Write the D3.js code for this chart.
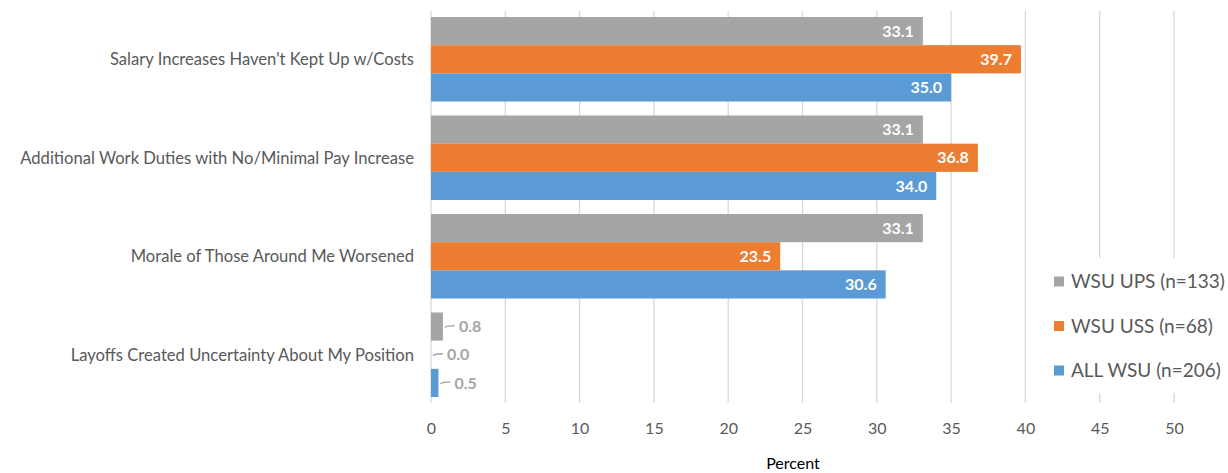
<!DOCTYPE html>
<html>
<head>
<meta charset="utf-8">
<script src="https://cdn.jsdelivr.net/npm/d3@7"></script>
<style>
  html, body { margin: 0; padding: 0; background: #fff; }
  svg { display: block; }
</style>
</head>
<body>
<svg id="chart" width="1228" height="473"></svg>
<script>
const categories = [
  "Salary Increases Haven't Kept Up w/Costs",
  "Additional Work Duties with No/Minimal Pay Increase",
  "Morale of Those Around Me Worsened",
  "Layoffs Created Uncertainty About My Position"
];
const seriesNames = ["WSU UPS (n=133)", "WSU USS (n=68)", "ALL WSU (n=206)"];
const seriesColors = ["#A5A5A5", "#ED7D31", "#5B9BD5"];
const upsValues = [33.1, 33.1, 33.1, 0.8];
const ussValues = [39.7, 36.8, 23.5, 0.0];
const allValues = [35.0, 34.0, 30.6, 0.5];
const xTicks = [0, 5, 10, 15, 20, 25, 30, 35, 40, 45, 50];
const xTitle = "Percent";

(function() {
const seriesValues = [upsValues, ussValues, allValues];

const svg = d3.select("#chart");
const pLeft = 431, pRight = 1174, pTop = 11, pBottom = 403;

const x = d3.scaleLinear().domain([0, 50]).range([pLeft, pRight]);
const y0 = d3.scaleBand().domain(categories).range([pTop, pBottom])
  .paddingInner(0.142).paddingOuter(0.061);
const y1 = d3.scaleBand().domain(d3.range(seriesNames.length)).range([0, y0.bandwidth()]);

// gridlines
svg.append("g").selectAll("line").data(xTicks).join("line")
  .attr("x1", d => x(d)).attr("x2", d => x(d))
  .attr("y1", pTop).attr("y2", pBottom)
  .attr("stroke", "#D9D9D9").attr("stroke-width", 1.3);

// bars
const groups = svg.append("g").selectAll("g").data(categories).join("g")
  .attr("transform", d => `translate(0,${y0(d)})`);

groups.each(function(cat, ci) {
  const g = d3.select(this);
  seriesValues.forEach((vals, si) => {
    const v = vals[ci];
    const by = y1(si), bh = y1.bandwidth();
    g.append("rect")
      .attr("x", x(0)).attr("y", by)
      .attr("width", x(v) - x(0)).attr("height", bh)
      .attr("fill", seriesColors[si]);
    const label = v.toFixed(1);
    if (v >= 5) {
      g.append("text")
        .attr("x", x(v) - 9).attr("y", by + bh / 2)
        .attr("dy", "0.35em").attr("text-anchor", "end")
        .attr("font-family", "Lato, 'Open Sans', sans-serif")
        .attr("font-weight", "bold").attr("font-size", 16)
        .attr("fill", "#fff").text(label);
    } else {
      const ex = x(v);
      const cy = by + bh / 2;
      g.append("path")
        .attr("d", `M${ex + 2},${cy + 1} Q${ex + 4},${cy - 1} ${ex + 12},${cy - 1}`)
        .attr("fill", "none").attr("stroke", "#A5A5A5").attr("stroke-width", 1.3);
      g.append("text")
        .attr("x", ex + 16).attr("y", cy)
        .attr("dy", "0.35em").attr("text-anchor", "start")
        .attr("font-family", "Lato, 'Open Sans', sans-serif")
        .attr("font-weight", "bold").attr("font-size", 16)
        .attr("fill", "#A5A5A5").text(label);
    }
  });
});

// category axis labels
svg.append("g").selectAll("text").data(categories).join("text")
  .attr("x", 414)
  .attr("y", d => y0(d) + y0.bandwidth() / 2)
  .attr("dy", "0.35em").attr("text-anchor", "end")
  .attr("font-family", "Lato, 'Open Sans', sans-serif")
  .attr("font-size", 16.6).attr("fill", "#595959")
  .text(d => d);

// x axis
const xAxis = d3.axisBottom(x).tickValues(xTicks).tickSize(0).tickPadding(0).tickFormat(d3.format("d"));
const axG = svg.append("g").attr("transform", `translate(0,${pBottom})`).call(xAxis);
axG.select(".domain").remove();
axG.selectAll("text")
  .attr("y", 25).attr("dy", "0.35em")
  .attr("font-family", "Lato, 'Open Sans', sans-serif")
  .attr("font-size", 16).attr("fill", "#595959");

svg.append("text")
  .attr("x", 793).attr("y", 463).attr("dy", "0.35em")
  .attr("text-anchor", "middle")
  .attr("font-family", "Lato, 'Open Sans', sans-serif")
  .attr("font-size", 16).attr("fill", "#000")
  .text(xTitle);

// legend
const lg = svg.append("g");
lg.append("rect").attr("x", 1040).attr("y", 258).attr("width", 188).attr("height", 135).attr("fill", "#fff");
const rows = [281.5, 326, 370.5];
seriesNames.forEach((name, i) => {
  lg.append("rect").attr("x", 1054).attr("y", rows[i] - 5).attr("width", 10).attr("height", 10)
    .attr("fill", seriesColors[i]);
  lg.append("text").attr("x", 1071).attr("y", rows[i]).attr("dy", "0.35em")
    .attr("font-family", "Lato, 'Open Sans', sans-serif")
    .attr("font-size", 19).attr("fill", "#595959").text(name);
});
})();
</script>
</body>
</html>
